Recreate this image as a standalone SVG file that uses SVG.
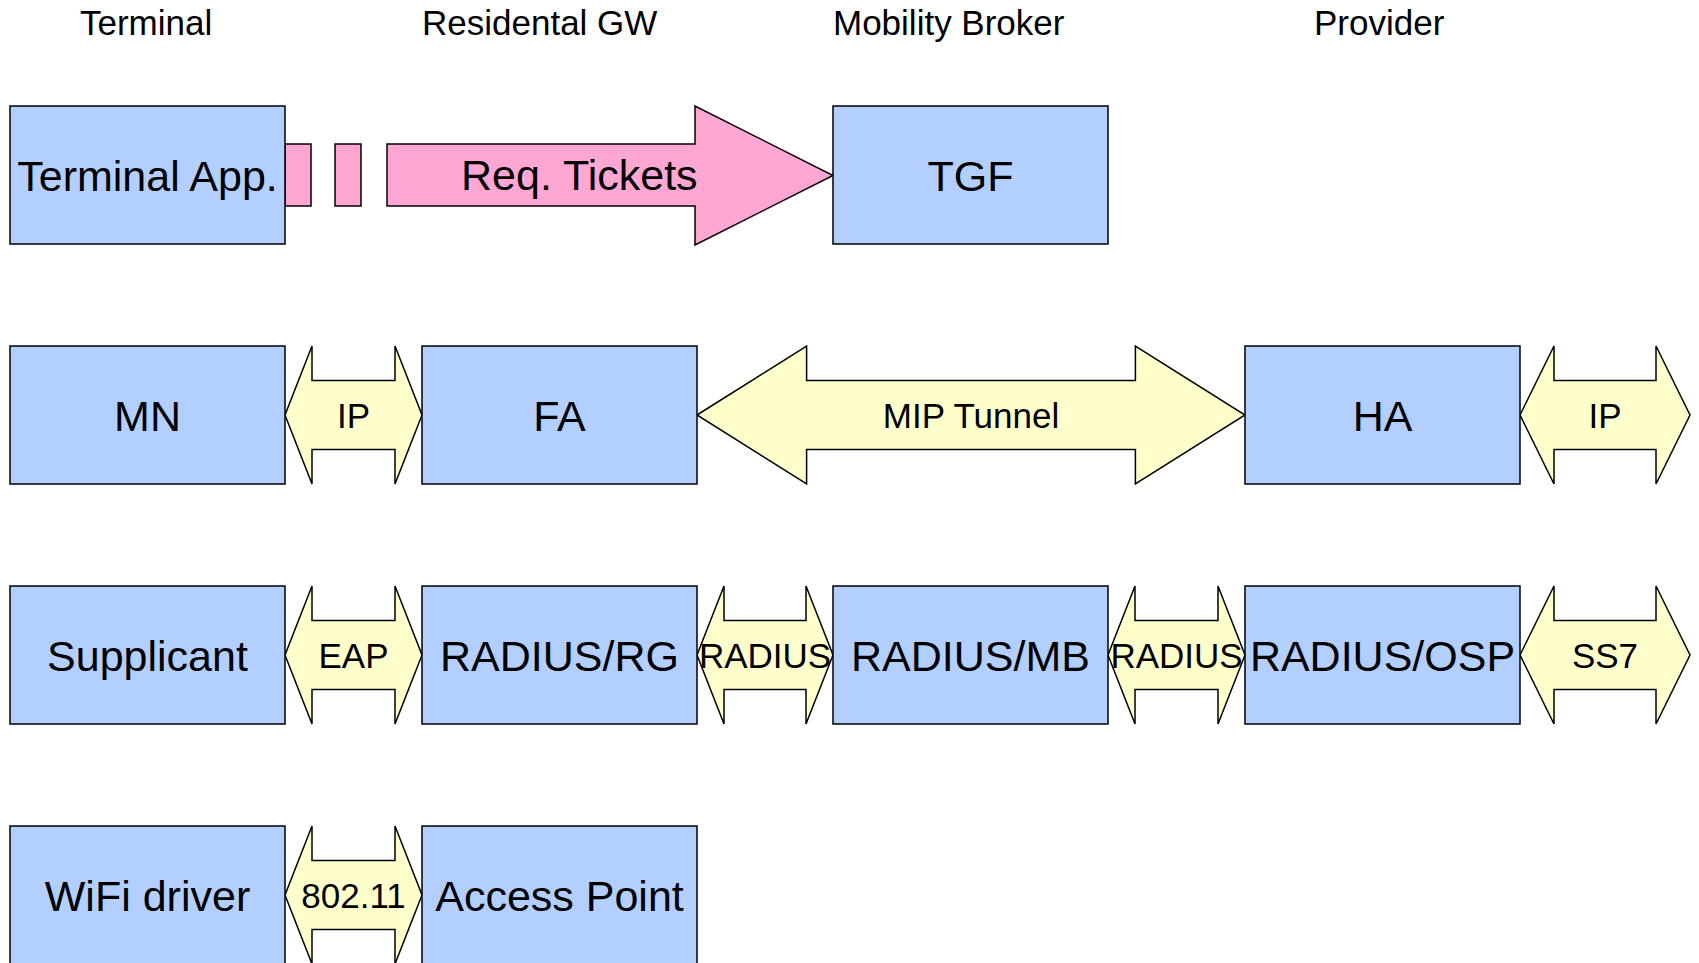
<svg xmlns="http://www.w3.org/2000/svg" width="1699" height="963" viewBox="0 0 1699 963">
  <style>
    text { font-family: "Liberation Sans", Arial, sans-serif; fill: #000; }
    .hdr { font-size: 35px; }
    .node rect { fill: #b3cfff; stroke: #000; stroke-width: 1.5; }
    .node text { font-size: 43px; text-anchor: middle; }
    .dbl path { fill: #ffffcc; stroke: #000; stroke-width: 1.5; stroke-linejoin: miter; }
    .dbl text { font-size: 35px; text-anchor: middle; }
    .pink { fill: #ffa6d2; stroke: #000; stroke-width: 1.5; }
  </style>

  <!-- column headers -->
  <g id="headers">
    <text class="hdr" x="80" y="35">Terminal</text>
    <text class="hdr" x="422" y="35">Residental GW</text>
    <text class="hdr" x="833" y="35">Mobility Broker</text>
    <text class="hdr" x="1314" y="35">Provider</text>
  </g>

  <!-- connectors -->
  <g id="connectors">
    <!-- striped request arrow -->
    <g id="req-tickets">
      <rect class="pink" x="285" y="144" width="26" height="62"/>
      <rect class="pink" x="335" y="144" width="26" height="62"/>
      <path class="pink" d="M387,144 H695 V106 L833,175.5 L695,245 V206 H387 Z"/>
      <text x="461" y="190" style="font-size:43px">Req. Tickets</text>
    </g>
    <g class="dbl">
      <!-- row 2 -->
      <path d="M285,415 L312,346 V380.5 H395 V346 L422,415 L395,484 V449.5 H312 V484 Z"/>
      <text x="353.5" y="427.5">IP</text>
      <path d="M697,415 L806.6,346 V380.5 H1135.4 V346 L1245,415 L1135.4,484 V449.5 H806.6 V484 Z"/>
      <text x="971" y="427.5">MIP Tunnel</text>
      <path d="M1520,415 L1554,346 V380.5 H1656 V346 L1690,415 L1656,484 V449.5 H1554 V484 Z"/>
      <text x="1605" y="427.5">IP</text>
      <!-- row 3 -->
      <path d="M285,655 L312,586 V620.5 H395 V586 L422,655 L395,724 V689.5 H312 V724 Z"/>
      <text x="353.5" y="667.5">EAP</text>
      <path d="M697,655 L724,586 V620.5 H806 V586 L833,655 L806,724 V689.5 H724 V724 Z"/>
      <text x="765" y="667.5">RADIUS</text>
      <path d="M1108,655 L1135,586 V620.5 H1218 V586 L1245,655 L1218,724 V689.5 H1135 V724 Z"/>
      <text x="1176.5" y="667.5">RADIUS</text>
      <path d="M1520,655 L1554,586 V620.5 H1656 V586 L1690,655 L1656,724 V689.5 H1554 V724 Z"/>
      <text x="1605" y="667.5">SS7</text>
      <!-- row 4 -->
      <path d="M285,895 L312,826 V860.5 H395 V826 L422,895 L395,964 V929.5 H312 V964 Z"/>
      <text x="353.5" y="907.5">802.11</text>
    </g>
  </g>

  <!-- row 1 -->
  <g id="terminal-app" class="node">
    <rect x="10" y="106" width="275" height="138"/>
    <text x="147.5" y="190.5">Terminal App.</text>
  </g>
  <g id="tgf" class="node">
    <rect x="833" y="106" width="275" height="138"/>
    <text x="970.5" y="190.5">TGF</text>
  </g>

  <!-- row 2 -->
  <g id="mn" class="node">
    <rect x="10" y="346" width="275" height="138"/>
    <text x="147.5" y="430.5">MN</text>
  </g>
  <g id="fa" class="node">
    <rect x="422" y="346" width="275" height="138"/>
    <text x="559.5" y="430.5">FA</text>
  </g>
  <g id="ha" class="node">
    <rect x="1245" y="346" width="275" height="138"/>
    <text x="1382.5" y="430.5">HA</text>
  </g>

  <!-- row 3 -->
  <g id="supplicant" class="node">
    <rect x="10" y="586" width="275" height="138"/>
    <text x="147.5" y="670.5">Supplicant</text>
  </g>
  <g id="radius-rg" class="node">
    <rect x="422" y="586" width="275" height="138"/>
    <text x="559.5" y="670.5">RADIUS/RG</text>
  </g>
  <g id="radius-mb" class="node">
    <rect x="833" y="586" width="275" height="138"/>
    <text x="970.5" y="670.5">RADIUS/MB</text>
  </g>
  <g id="radius-osp" class="node">
    <rect x="1245" y="586" width="275" height="138"/>
    <text x="1382.5" y="670.5">RADIUS/OSP</text>
  </g>

  <!-- row 4 -->
  <g id="wifi-driver" class="node">
    <rect x="10" y="826" width="275" height="138"/>
    <text x="147.5" y="910.5">WiFi driver</text>
  </g>
  <g id="access-point" class="node">
    <rect x="422" y="826" width="275" height="138"/>
    <text x="559.5" y="910.5">Access Point</text>
  </g>
</svg>
